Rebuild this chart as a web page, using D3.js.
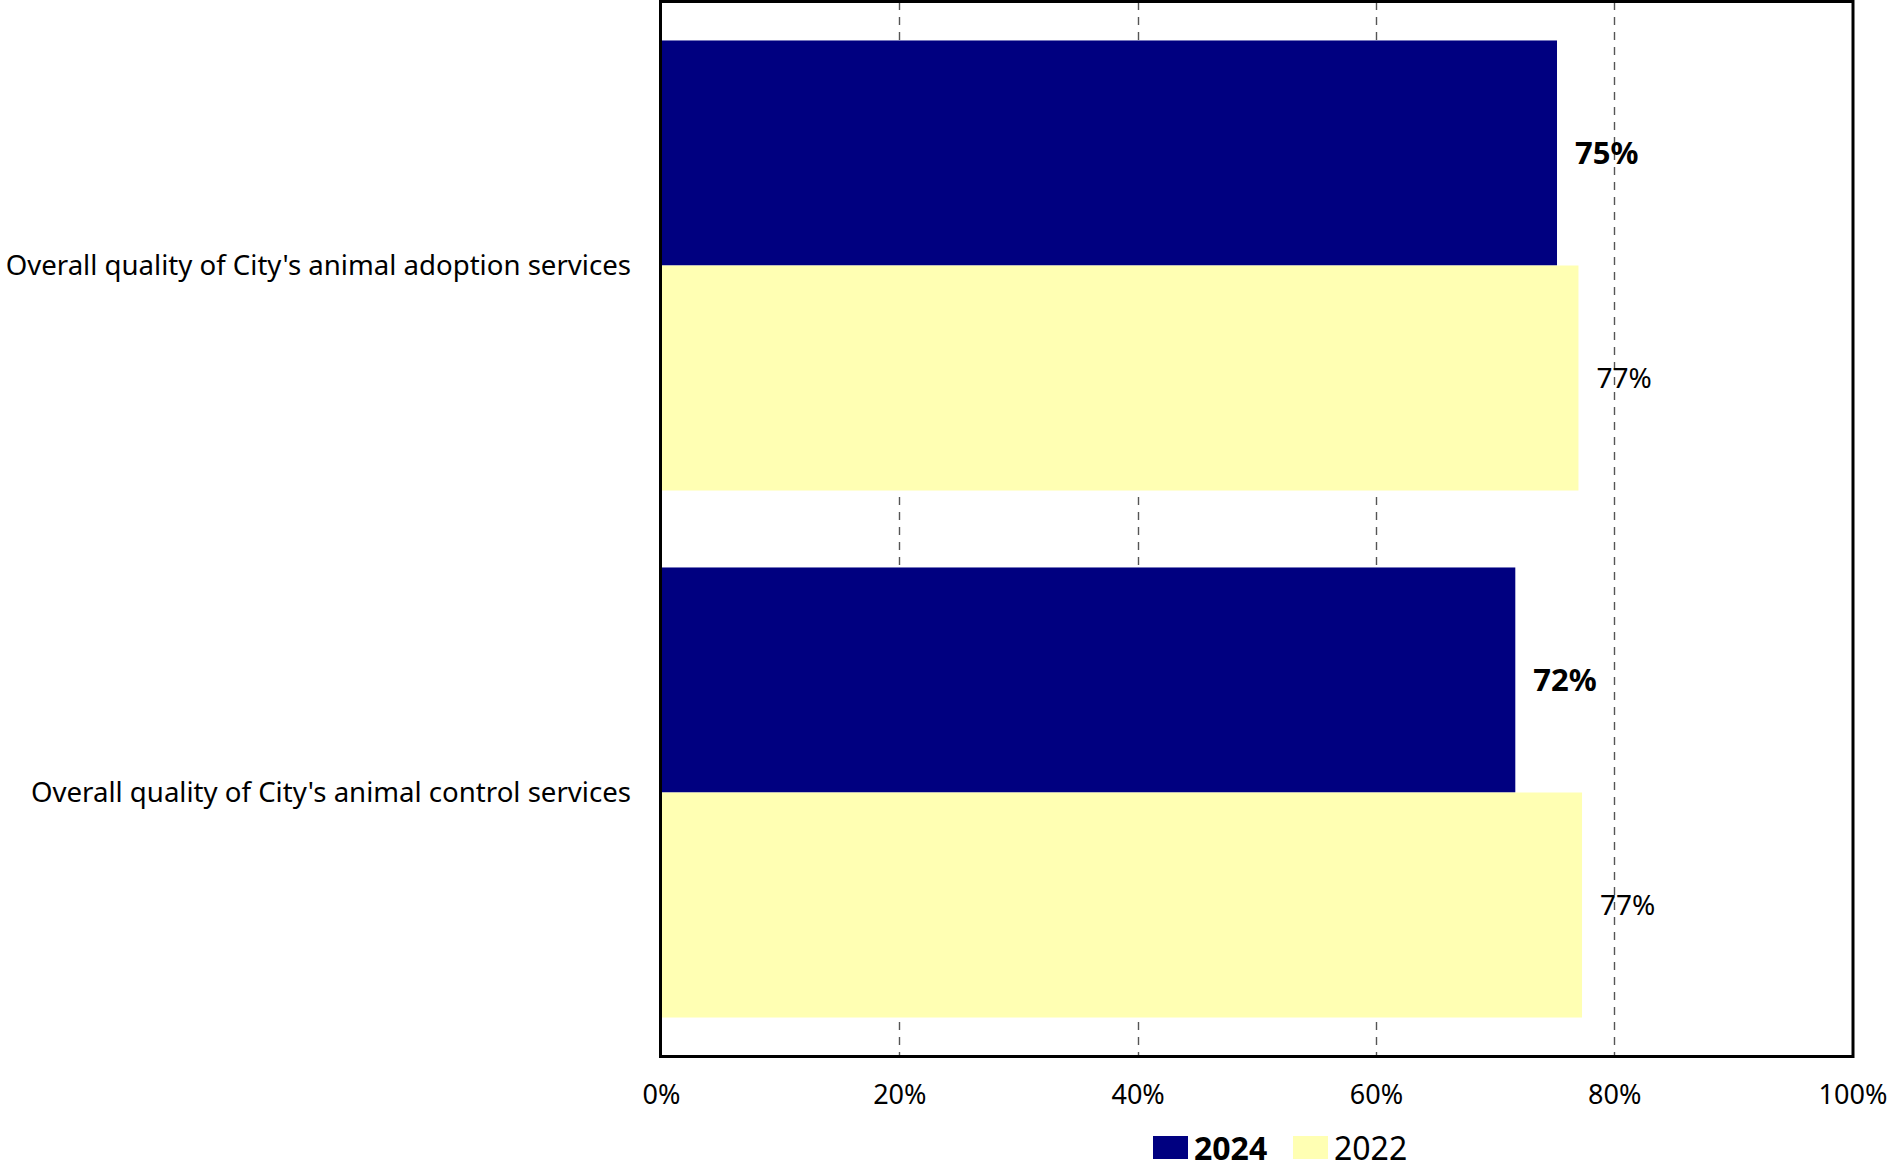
<!DOCTYPE html>
<html>
<head>
<meta charset="utf-8">
<script src="https://cdn.jsdelivr.net/npm/d3@7"></script>
<style>
  html, body { margin: 0; padding: 0; background: #fff; }
  svg { display: block; }
  text { font-family: "Noto Sans", "Open Sans", sans-serif; fill: #000; }
</style>
</head>
<body>
<svg id="chart" width="1891" height="1168"></svg>
<script>
const categories = [
  "Overall quality of City's animal adoption services",
  "Overall quality of City's animal control services"
];
const seriesNames = ["2024", "2022"];
const values2024 = [0.752, 0.717];
const values2022 = [0.770, 0.773];
const labels2024 = ["75%", "72%"];
const labels2022 = ["77%", "77%"];
const tickValues = [0, 0.2, 0.4, 0.6, 0.8, 1.0];
const tickLabels = ["0%", "20%", "40%", "60%", "80%", "100%"];
const colors = ["#000080", "#FFFFB3"];

(function () {
const svg = d3.select("#chart");
const pLeft = 661, pRight = 1852.5, pTop = 2, pBottom = 1056;

const x = d3.scaleLinear().domain([0, 1]).range([pLeft, pRight]);
const y = d3.scaleBand().domain(categories).range([pTop, pBottom])
  .paddingInner(0.146).paddingOuter(0.073);
const ys = d3.scaleBand().domain(seriesNames).range([0, y.bandwidth()]).padding(0);

// gridlines
svg.append("g").selectAll("line")
  .data(tickValues.filter(v => v > 0 && v < 1))
  .join("line")
  .attr("x1", d => Math.round(x(d)) + 0.5).attr("x2", d => Math.round(x(d)) + 0.5)
  .attr("y1", pTop).attr("y2", pBottom)
  .attr("stroke", "#555").attr("stroke-width", 1.4)
  .attr("stroke-dasharray", "8,7");

const rows = categories.map((c, i) => ({
  cat: c,
  items: [
    { s: "2024", v: values2024[i], label: labels2024[i] },
    { s: "2022", v: values2022[i], label: labels2022[i] }
  ]
}));

const g = svg.append("g").selectAll("g").data(rows).join("g")
  .attr("transform", d => `translate(0,${y(d.cat)})`);

g.selectAll("rect").data(d => d.items).join("rect")
  .attr("x", x(0))
  .attr("y", d => ys(d.s))
  .attr("width", d => x(d.v) - x(0))
  .attr("height", ys.bandwidth())
  .attr("fill", (d, i) => colors[i]);

g.selectAll("text.val").data(d => d.items).join("text")
  .attr("class", "val")
  .attr("x", d => x(d.v) + 18)
  .attr("y", d => ys(d.s) + ys.bandwidth() / 2)
  .attr("dy", "0.36em")
  .attr("font-size", (d, i) => i === 0 ? 31 : 28)
  .attr("font-weight", (d, i) => i === 0 ? "bold" : "normal")
  .text(d => d.label);

// category labels
svg.append("g").selectAll("text").data(categories).join("text")
  .attr("x", 631)
  .attr("y", d => y(d) + y.bandwidth() / 2)
  .attr("dy", "0.36em")
  .attr("text-anchor", "end")
  .attr("font-size", 27.6)
  .text(d => d);

// frame
svg.append("rect")
  .attr("x", 660.5).attr("y", 1.5)
  .attr("width", 1853 - 660.5).attr("height", 1056.5 - 1.5)
  .attr("fill", "none").attr("stroke", "#000").attr("stroke-width", 3);

// x axis
const axis = d3.axisBottom(x).tickValues(tickValues)
  .tickFormat((d, i) => tickLabels[i]).tickSize(0).tickPadding(0);
const ag = svg.append("g").attr("transform", `translate(0,1094)`).call(axis);
ag.select(".domain").remove();
ag.selectAll("text")
  .attr("dy", "0.36em")
  .attr("font-size", 27)
  .attr("font-family", "Noto Sans, sans-serif")
  .attr("fill", "#000");

// legend
const legend = svg.append("g");
const legendItems = [
  { name: seriesNames[0], color: colors[0], sx: 1153, tx: 1194, bold: true },
  { name: seriesNames[1], color: colors[1], sx: 1293, tx: 1334, bold: false }
];
legend.selectAll("rect").data(legendItems).join("rect")
  .attr("x", d => d.sx).attr("y", 1136).attr("width", 35).attr("height", 23)
  .attr("fill", d => d.color);
legend.selectAll("text").data(legendItems).join("text")
  .attr("x", d => d.tx).attr("y", 1148).attr("dy", "0.36em")
  .attr("font-size", 32)
  .attr("font-weight", d => d.bold ? "bold" : "normal")
  .text(d => d.name);
})();
</script>
</body>
</html>
